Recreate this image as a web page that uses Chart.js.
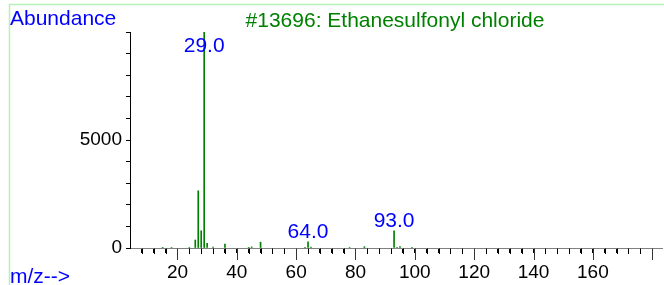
<!DOCTYPE html>
<html>
<head>
<meta charset="utf-8">
<script src="https://cdn.jsdelivr.net/npm/chart.js@4.4.1/dist/chart.umd.min.js"></script>
<style>
  html, body { margin: 0; padding: 0; background: #ffffff; }
  #wrap { width: 664px; height: 285px; position: relative; }
</style>
</head>
<body>
<div id="wrap"><canvas id="c" width="664" height="285"></canvas></div>
<script>
// ---- data ----
const mzValues   = [15, 18, 24, 26, 27, 28, 29, 30, 32, 36, 44, 45, 48, 63, 64, 65, 78, 83, 93, 94, 95, 99];
const abundances = [30, 20, 20, 370, 2650, 800, 10000, 220, 40, 180, 30, 50, 270, 30, 290, 40, 20, 60, 790, 30, 60, 20];
const labeledPeaks = [29, 64, 93];
const xTickLabels = [20, 40, 60, 80, 100, 120, 140, 160];
const yTickLabels = [0, 5000];
const titleText = '#13696: Ethanesulfonyl chloride';
const yTitleText = 'Abundance';
const xTitleText = 'm/z-->';

const points = mzValues.map((m, i) => ({ x: m, y: abundances[i] }));

const FONT = "'Liberation Sans', Arial, sans-serif";

const decorPlugin = {
  id: 'decor',
  beforeDraw(chart) {
    const ctx = chart.ctx;
    ctx.save();
    ctx.strokeStyle = '#b8f0b8';
    ctx.lineWidth = 1.5;
    ctx.beginPath();
    ctx.moveTo(9.5, 285);
    ctx.lineTo(9.5, 4.5);
    ctx.lineTo(664, 4.5);
    ctx.stroke();
    ctx.restore();
  },
  afterDraw(chart) {
    const ctx = chart.ctx;
    const xs = chart.scales.x;
    const ys = chart.scales.y;
    const area = chart.chartArea;
    ctx.save();
    // tick marks along the scale (minor every 4, major every 20)
    ctx.lineWidth = 1;
    xs.ticks.forEach(t => {
      const v = t.value;
      const px = Math.round(xs.getPixelForValue(v)) + 0.5;
      const major = v % 20 === 0;
      ctx.strokeStyle = major ? '#333333' : '#000000';
      ctx.beginPath();
      ctx.moveTo(px, area.bottom + 0.5);
      ctx.lineTo(px, area.bottom + (major ? 12 : 6));
      ctx.stroke();
    });
    // texts
    ctx.font = '21px ' + FONT;
    ctx.textBaseline = 'alphabetic';
    ctx.fillStyle = '#0000ff';
    ctx.textAlign = 'left';
    ctx.fillText(yTitleText, 10, 25);
    ctx.fillText(xTitleText, 10, 283);
    ctx.fillStyle = '#008000';
    ctx.textAlign = 'center';
    ctx.fillText(titleText, 395, 27);
    // peak labels
    ctx.fillStyle = '#0000ff';
    labeledPeaks.forEach(m => {
      const i = mzValues.indexOf(m);
      const px = xs.getPixelForValue(m);
      const py = ys.getPixelForValue(abundances[i]);
      const base = Math.max(py - 4, area.top + 20);
      ctx.fillText(m.toFixed(1), px, base);
    });
    ctx.restore();
  }
};

new Chart(document.getElementById('c'), {
  type: 'bar',
  data: {
    datasets: [{
      data: points,
      backgroundColor: '#008000',
      borderWidth: 0,
      barThickness: 1,
    }]
  },
  options: {
    responsive: false,
    animation: false,
    events: [],
    layout: { padding: { top: 32, right: 2, left: 0, bottom: 0 } },
    plugins: { legend: { display: false }, tooltip: { enabled: false }, title: { display: false } },
    scales: {
      x: {
        type: 'linear',
        min: 4,
        max: 183.3,
        offset: false,
        afterFit(scale) { scale.height = 37; },
        afterBuildTicks(scale) {
          const t = [];
          for (let v = 8; v <= 180; v += 4) t.push({ value: v });
          scale.ticks = t;
        },
        border: { display: true, color: '#808080', width: 1 },
        grid: { offset: false, display: true, drawOnChartArea: false, drawTicks: true, tickLength: 5, tickColor: '#000000', lineWidth: 1, color: '#000000' },
        ticks: {
          autoSkip: false,
          maxRotation: 0,
          padding: 8,
          color: '#000000',
          font: { family: FONT, size: 19 },
          callback: (v) => xTickLabels.includes(v) ? String(v) : ''
        }
      },
      y: {
        type: 'linear',
        min: 0,
        max: 10000,
        afterFit(scale) { scale.width = 130; },
        border: { display: true, color: '#000000', width: 1 },
        grid: { offset: false, drawOnChartArea: false, drawTicks: true, tickLength: 4, tickColor: '#000000', lineWidth: 1 },
        ticks: {
          stepSize: 1000,
          autoSkip: false,
          padding: 4,
          color: '#000000',
          font: { family: FONT, size: 19 },
          callback: (v) => yTickLabels.includes(v) ? String(v) : ''
        }
      }
    }
  },
  plugins: [decorPlugin]
});
</script>
</body>
</html>
